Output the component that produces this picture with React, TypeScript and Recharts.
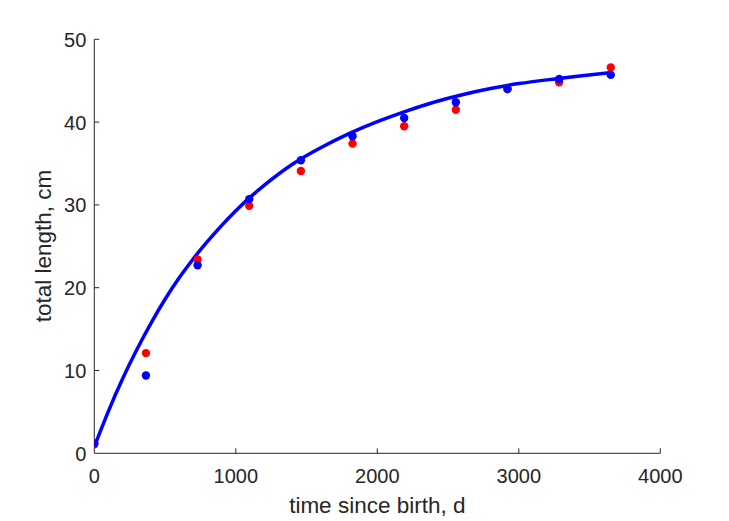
import React from 'react';
import { ComposedChart, Scatter, Line, XAxis, YAxis } from 'recharts';

const ages = [0, 365, 730, 1095, 1460, 1825, 2190, 2555, 2920, 3285, 3650];
const redLengths = [1.1, 12.1, 23.4, 29.9, 34.1, 37.4, 39.5, 41.5, 44.0, 44.8, 46.6];
const blueLengths = [1.2, 9.4, 22.7, 30.7, 35.4, 38.3, 40.5, 42.4, 44.0, 45.2, 45.7];

const fitTimes = [0, 100, 200, 300, 400, 500, 600, 700, 800, 1000, 1200, 1400, 1600, 1800, 2000, 2200, 2400, 2600, 2800, 3000, 3200, 3400, 3640];
const fitLengths = [0.8, 5.1, 9.0, 12.5, 15.7, 18.6, 21.2, 23.5, 25.6, 29.3, 32.35, 34.9, 36.9, 38.6, 40.05, 41.3, 42.4, 43.3, 44.05, 44.65, 45.1, 45.5, 45.95];

const xTicks = [0, 1000, 2000, 3000, 4000];
const yTicks = [0, 10, 20, 30, 40, 50];

const red = ages.map((t, i) => ({ t, y: redLengths[i] }));
const blue = ages.map((t, i) => ({ t, y: blueLengths[i] }));
const fit = fitTimes.map((t, i) => ({ t, y: fitLengths[i] }));

const INK = '#262626';
const FONT = 'Liberation Sans, Arial, Helvetica, sans-serif';

const XTick = (props: any) => {
  const { x, y, payload } = props;
  return (
    <g>
      {payload.value !== 0 && <line x1={x} x2={x} y1={y} y2={y - 5} stroke={INK} strokeWidth={1} />}
      <text x={x} y={y + 30} textAnchor="middle" fill={INK} fontSize={20} fontFamily={FONT}>
        {payload.value}
      </text>
    </g>
  );
};

const YTick = (props: any) => {
  const { x, y, payload } = props;
  return (
    <g>
      {payload.value !== 0 && <line x1={x} x2={x + 5} y1={y} y2={y} stroke={INK} strokeWidth={1} />}
      <text x={x - 8} y={y + 7.5} textAnchor="end" fill={INK} fontSize={20} fontFamily={FONT}>
        {payload.value}
      </text>
    </g>
  );
};

const dot = (color: string) => (props: any) => (
  <circle cx={props.cx} cy={props.cy} r={4.2} fill={color} />
);

export default function App() {
  return (
    <div style={{ position: 'absolute', left: 0, top: 0, width: 729, height: 521, background: '#fff' }}>
      <ComposedChart
        width={729}
        height={521}
        margin={{ top: 39.3, right: 68.7, bottom: 17.7, left: 34.3 }}
      >
        <XAxis
          type="number"
          dataKey="t"
          domain={[0, 4000]}
          ticks={xTicks}
          height={50}
          tickSize={0}
          tickMargin={0}
          tickLine={false}
          tick={<XTick />}
          axisLine={{ stroke: INK, strokeWidth: 1 }}
          allowDataOverflow
        />
        <YAxis
          type="number"
          dataKey="y"
          domain={[0, 50]}
          ticks={yTicks}
          width={60}
          tickSize={0}
          tickMargin={0}
          tickLine={false}
          tick={<YTick />}
          axisLine={{ stroke: INK, strokeWidth: 1 }}
          allowDataOverflow
        />
        <Scatter data={red} dataKey="y" isAnimationActive={false} shape={dot('#ff0000')} />
        <Scatter data={blue} dataKey="y" isAnimationActive={false} shape={dot('#0000ff')} />
        <Line
          data={fit}
          dataKey="y"
          type="natural"
          stroke="#0000ff"
          strokeWidth={3.5}
          dot={false}
          activeDot={false}
          isAnimationActive={false}
        />
        <text x={377.3} y={513} textAnchor="middle" fill={INK} fontSize={22.5} fontFamily={FONT}>
          time since birth, d
        </text>
        <text
          x={50.5}
          y={246}
          transform="rotate(-90 50.5 246)"
          textAnchor="middle"
          fill={INK}
          fontSize={22.5}
          fontFamily={FONT}
        >
          total length, cm
        </text>
      </ComposedChart>
    </div>
  );
}
